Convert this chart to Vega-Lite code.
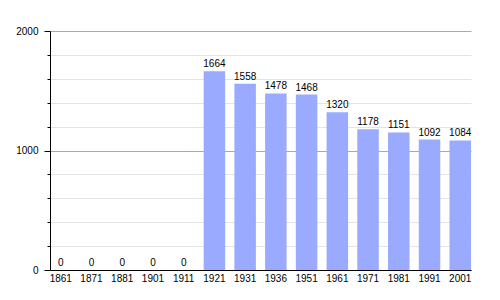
{
  "$schema": "https://vega.github.io/schema/vega-lite/v6.json",
  "width": 421,
  "height": 239,
  "autosize": "none",
  "padding": {"left": 50, "top": 31, "right": 29, "bottom": 30},
  "background": "white",
  "config": {
    "view": {"stroke": null},
    "font": "Liberation Sans"
  },
  "data": {
    "values": [
      {"year": "1861", "pop": 0},
      {"year": "1871", "pop": 0},
      {"year": "1881", "pop": 0},
      {"year": "1901", "pop": 0},
      {"year": "1911", "pop": 0},
      {"year": "1921", "pop": 1664},
      {"year": "1931", "pop": 1558},
      {"year": "1936", "pop": 1478},
      {"year": "1951", "pop": 1468},
      {"year": "1961", "pop": 1320},
      {"year": "1971", "pop": 1178},
      {"year": "1981", "pop": 1151},
      {"year": "1991", "pop": 1092},
      {"year": "2001", "pop": 1084}
    ]
  },
  "encoding": {
    "x": {
      "field": "year",
      "type": "ordinal",
      "sort": null,
      "scale": {"paddingInner": 0.3, "paddingOuter": 0},
      "axis": {
        "title": null,
        "labelAngle": 0,
        "labelFontSize": 10,
        "labelColor": "#000",
        "ticks": false,
        "labelPadding": 3,
        "domainColor": "#000",
        "domainWidth": 1
      }
    },
    "y": {
      "field": "pop",
      "type": "quantitative",
      "scale": {"domain": [0, 2000], "nice": false},
      "axis": {
        "title": null,
        "values": [0, 200, 400, 600, 800, 1000, 1200, 1400, 1600, 1800, 2000],
        "labelExpr": "datum.value % 1000 === 0 ? datum.label : ''",
        "format": "d",
        "labelFontSize": 10,
        "labelColor": "#000",
        "labelPadding": 6,
        "domainColor": "#000",
        "tickColor": "#000",
        "tickSize": {"condition": {"test": "datum.value % 1000 === 0", "value": 6}, "value": 3},
        "grid": true,
        "gridColor": {"condition": {"test": "datum.value % 1000 === 0", "value": "#aaaaaa"}, "value": "#e4e4e4"}
      }
    }
  },
  "layer": [
    {"mark": {"type": "bar", "color": "#9aabff"}},
    {
      "mark": {"type": "text", "baseline": "alphabetic", "dy": -4, "fontSize": 10, "color": "#000"},
      "encoding": {"text": {"field": "pop", "type": "quantitative", "format": "d"}}
    }
  ]
}
